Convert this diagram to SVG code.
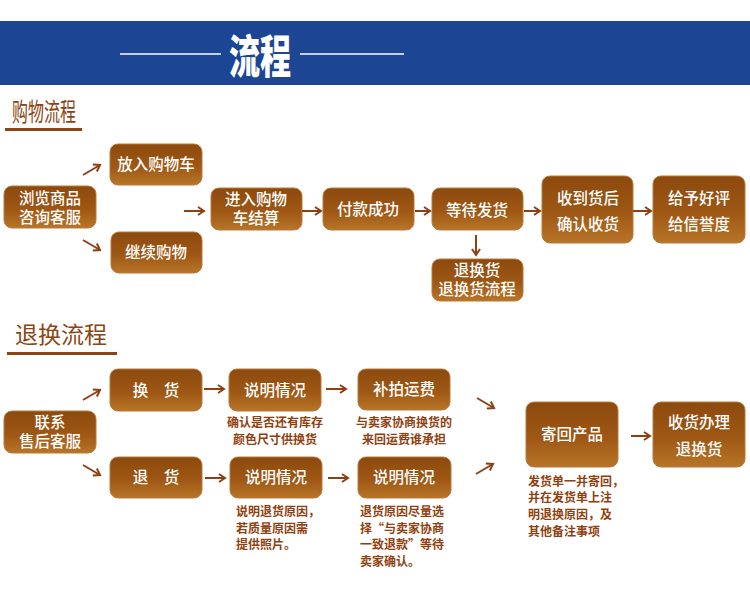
<svg xmlns="http://www.w3.org/2000/svg" width="750" height="591" viewBox="0 0 750 591">
<style>
.box{fill:url(#bg);stroke:#b87a3a;stroke-width:1}
.bt{font-family:"Noto Sans CJK SC","Noto Sans",sans-serif;font-size:15.5px;fill:#fff;text-anchor:middle;font-weight:500}
.cap{font-family:"Noto Sans CJK SC","Noto Sans",sans-serif;font-size:12px;fill:#8f3f10;font-weight:700}
.capc{text-anchor:middle}
.sec{font-family:"Noto Sans CJK SC","Noto Sans",sans-serif;fill:#8b4513}
.ar{stroke:#8e3f14;stroke-width:2;fill:none;marker-end:url(#ah)}
</style>
<defs>
<linearGradient id="bg" x1="0" y1="0" x2="0" y2="1">
<stop offset="0" stop-color="#8c4a0e"/>
<stop offset="0.55" stop-color="#9e5714"/>
<stop offset="1" stop-color="#b87528"/>
</linearGradient>
<marker id="ah" markerWidth="10" markerHeight="10" refX="7" refY="5" orient="auto" markerUnits="userSpaceOnUse">
<path d="M1,1 L7,5 L1,9" fill="none" stroke="#8e3f14" stroke-width="2"/>
</marker>
</defs>
<rect width="750" height="591" fill="#fff"/>
<!-- header -->
<rect x="0" y="21" width="750" height="64" fill="#1c4593"/>
<line x1="120" y1="54" x2="221" y2="54" stroke="#fff" stroke-width="1.5"/>
<line x1="300" y1="54" x2="404" y2="54" stroke="#fff" stroke-width="1.5"/>
<text x="260" y="73" font-family="'Noto Sans CJK SC',sans-serif" font-size="46" font-weight="900" fill="#fff" text-anchor="middle" textLength="62" lengthAdjust="spacingAndGlyphs">流程</text>
<!-- section 1 -->
<text class="sec" x="12" y="121" font-size="25" textLength="64" lengthAdjust="spacingAndGlyphs">购物流程</text>
<rect x="5" y="128" width="77" height="3" fill="#8b4513"/>
<g id="n1"><rect class="box" x="4" y="186" width="92" height="42" rx="8"/><text class="bt" x="50" y="204">浏览商品</text><text class="bt" x="50" y="223">咨询客服</text></g>
<g id="n2"><rect class="box" x="110" y="144" width="92" height="41" rx="8"/><text class="bt" x="156" y="170">放入购物车</text></g>
<g id="n3"><rect class="box" x="111" y="232" width="91" height="41" rx="8"/><text class="bt" x="156" y="258">继续购物</text></g>
<g id="n4"><rect class="box" x="211" y="188" width="91" height="42" rx="8"/><text class="bt" x="256" y="205">进入购物</text><text class="bt" x="256" y="224">车结算</text></g>
<g id="n5"><rect class="box" x="323" y="188" width="91" height="42" rx="8"/><text class="bt" x="368" y="215">付款成功</text></g>
<g id="n6"><rect class="box" x="432" y="188" width="91" height="42" rx="8"/><text class="bt" x="477" y="216">等待发货</text></g>
<g id="n7"><rect class="box" x="542" y="176" width="91" height="67" rx="8"/><text class="bt" x="588" y="204">收到货后</text><text class="bt" x="588" y="230">确认收货</text></g>
<g id="n8"><rect class="box" x="653" y="176" width="92" height="67" rx="8"/><text class="bt" x="699" y="204">给予好评</text><text class="bt" x="699" y="230">给信誉度</text></g>
<g id="n9"><rect class="box" x="432" y="259" width="91" height="42" rx="8"/><text class="bt" x="477" y="276">退换货</text><text class="bt" x="477" y="295">退换货流程</text></g>
<!-- section 2 -->
<text class="sec" x="15" y="343" font-size="23" textLength="92" lengthAdjust="spacingAndGlyphs">退换流程</text>
<rect x="7" y="352" width="110" height="3" fill="#8b4513"/>
<g id="m1"><rect class="box" x="4" y="411" width="92" height="42" rx="8"/><text class="bt" x="50" y="428">联系</text><text class="bt" x="50" y="447">售后客服</text></g>
<g id="m2"><rect class="box" x="110" y="369" width="92" height="42" rx="8"/><text class="bt" x="156" y="396">换　货</text></g>
<g id="m3"><rect class="box" x="229" y="369" width="92" height="42" rx="8"/><text class="bt" x="275" y="396">说明情况</text>
<text class="cap capc" x="275" y="427">确认是否还有库存</text><text class="cap capc" x="275" y="444">颜色尺寸供换货</text></g>
<g id="m4"><rect class="box" x="358" y="369" width="92" height="41" rx="8"/><text class="bt" x="404" y="395">补拍运费</text>
<text class="cap capc" x="404" y="427">与卖家协商换货的</text><text class="cap capc" x="404" y="444">来回运费谁承担</text></g>
<g id="m5"><rect class="box" x="110" y="457" width="92" height="41" rx="8"/><text class="bt" x="156" y="483">退　货</text></g>
<g id="m6"><rect class="box" x="230" y="457" width="92" height="41" rx="8"/><text class="bt" x="276" y="483">说明情况</text>
<text class="cap" x="236" y="516">说明退货原因，</text><text class="cap" x="236" y="533">若质量原因需</text><text class="cap" x="236" y="549">提供照片。</text></g>
<g id="m7"><rect class="box" x="358" y="457" width="93" height="41" rx="8"/><text class="bt" x="404" y="483">说明情况</text>
<text class="cap" x="360" y="516">退货原因尽量选</text><text class="cap" x="360" y="533">择“与卖家协商</text><text class="cap" x="360" y="549">一致退款”等待</text><text class="cap" x="360" y="566">卖家确认。</text></g>
<g id="m8"><rect class="box" x="526" y="402" width="92" height="65" rx="8"/><text class="bt" x="572" y="440">寄回产品</text>
<text class="cap" x="528" y="486">发货单一并寄回，</text><text class="cap" x="528" y="502">并在发货单上注</text><text class="cap" x="528" y="519">明退换原因，及</text><text class="cap" x="528" y="536">其他备注事项</text></g>
<g id="m9"><rect class="box" x="653" y="402" width="92" height="65" rx="8"/><text class="bt" x="699" y="428">收货办理</text><text class="bt" x="699" y="455">退换货</text></g>
<!-- connectors -->
<g id="connectors">
<line class="ar" x1="83" y1="175" x2="100" y2="165"/>
<line class="ar" x1="83" y1="240" x2="100" y2="250"/>
<line class="ar" x1="184" y1="211" x2="204" y2="211"/>
<line class="ar" x1="302" y1="211" x2="321" y2="211"/>
<line class="ar" x1="415" y1="211" x2="430" y2="211"/>
<line class="ar" x1="524" y1="211" x2="540" y2="211"/>
<line class="ar" x1="633" y1="211" x2="651" y2="211"/>
<line class="ar" x1="476" y1="235" x2="476" y2="255"/>
<line class="ar" x1="83" y1="400" x2="100" y2="390"/>
<line class="ar" x1="83" y1="465" x2="100" y2="475"/>
<line class="ar" x1="204" y1="389" x2="224" y2="389"/>
<line class="ar" x1="326" y1="389" x2="346" y2="389"/>
<line class="ar" x1="205" y1="478" x2="225" y2="478"/>
<line class="ar" x1="328" y1="478" x2="348" y2="478"/>
<line class="ar" x1="477" y1="398" x2="494" y2="408"/>
<line class="ar" x1="476" y1="474" x2="493" y2="464"/>
<line class="ar" x1="631" y1="436" x2="650" y2="436"/>
</g>
</svg>
